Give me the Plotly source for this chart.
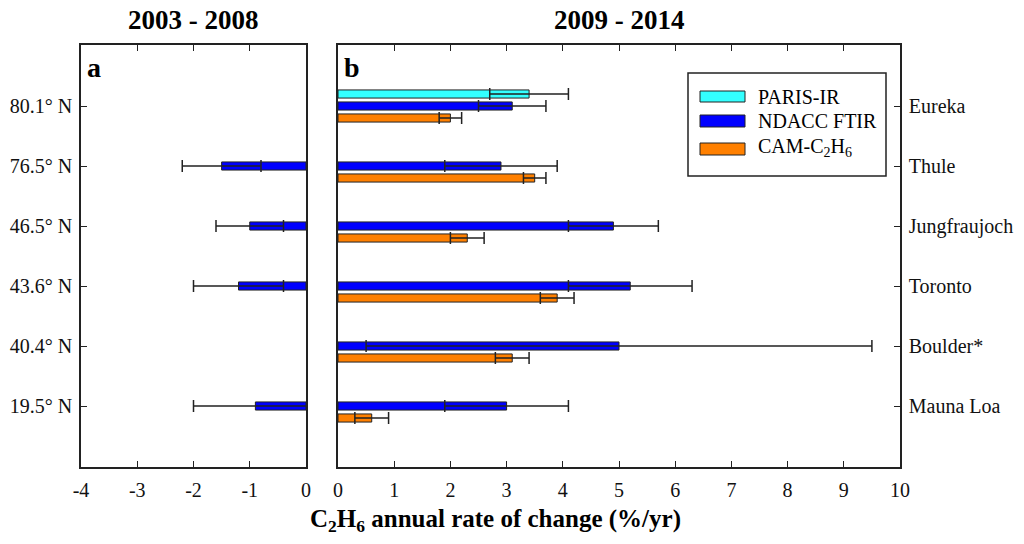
import plotly.graph_objects as go

# ---------------- data ----------------
latitudes = ["80.1° N", "76.5° N", "46.5° N", "43.6° N", "40.4° N", "19.5° N"]
stations = ["Eureka", "Thule", "Jungfraujoch", "Toronto", "Boulder*", "Mauna Loa"]
series_names = ["PARIS-IR", "NDACC FTIR", "CAM-C<sub>2</sub>H<sub>6</sub>"]
series_colors = ["#33FFFF", "#0000FF", "#FF8000"]

# Panel a: 2003-2008 (NDACC FTIR only; None = no data)
ndacc_0308 = [None, -1.5, -1.0, -1.2, None, -0.9]
ndacc_0308_err = [None, 0.7, 0.6, 0.8, None, 1.1]

# Panel b: 2009-2014
paris_0914 = [3.4, None, None, None, None, None]
paris_0914_err = [0.7, None, None, None, None, None]
ndacc_0914 = [3.1, 2.9, 4.9, 5.2, 5.0, 3.0]
ndacc_0914_err = [0.6, 1.0, 0.8, 1.1, 4.5, 1.1]
cam_0914 = [2.0, 3.5, 2.3, 3.9, 3.1, 0.6]
cam_0914_err = [0.2, 0.2, 0.3, 0.3, 0.3, 0.3]

xticks_a = [-4, -3, -2, -1, 0]
xticklabels_a = ["-4", "-3", "-2", "-1", "0"]
xticks_b = list(range(0, 11))

# ---------------- style ----------------
FONT = "Liberation Serif, Times New Roman, Times, serif"
ypos = list(range(len(latitudes)))
BAR_W = 0.135
offsets = [-0.2 - BAR_W / 2, -BAR_W / 2, 0.2 - BAR_W / 2]


def bar(vals, errs, k, xa, ya):
    return go.Bar(
        x=vals, y=ypos, orientation="h",
        width=BAR_W, offset=offsets[k],
        marker=dict(color=series_colors[k], line=dict(color="#222222", width=1)),
        error_x=dict(type="data", array=errs, symmetric=True,
                     color="#222222", thickness=1.5, width=6),
        name=series_names[k], showlegend=False,
        xaxis=xa, yaxis=ya,
    )


fig = go.Figure()
fig.add_trace(bar(ndacc_0308, ndacc_0308_err, 1, "x", "y"))
fig.add_trace(bar(paris_0914, paris_0914_err, 0, "x2", "y2"))
fig.add_trace(bar(ndacc_0914, ndacc_0914_err, 1, "x2", "y2"))
fig.add_trace(bar(cam_0914, cam_0914_err, 2, "x2", "y2"))

W, H = 1024, 544
def px(x):
    return x / W
def py(y):
    return 1 - y / H

yrange = [5 + 61 / 60, -61 / 60]
axis_common = dict(showgrid=False, zeroline=False, showline=True, linecolor="#222222",
                   linewidth=1.5, ticks="inside", ticklen=6, tickcolor="#222222",
                   tickfont=dict(family=FONT, size=20, color="#111111"))

fig.update_layout(
    width=W, height=H,
    margin=dict(l=0, r=0, t=0, b=0),
    paper_bgcolor="white", plot_bgcolor="white",
    barmode="overlay",
    showlegend=False,
    xaxis=dict(domain=[px(81), px(306)], range=[-4, 0], tickvals=xticks_a, ticktext=xticklabels_a,
               anchor="y", mirror="ticks", automargin=False, ticklabelstandoff=4, **axis_common),
    yaxis=dict(domain=[py(467), py(45)], range=yrange, tickvals=ypos, ticktext=latitudes,
               anchor="x", side="left", mirror=True, automargin=False, ticklabelstandoff=3,
               **axis_common),
    xaxis2=dict(domain=[px(338), px(900)], range=[0, 10], tickvals=xticks_b,
                anchor="y2", mirror="ticks", automargin=False, ticklabelstandoff=4, **axis_common),
    yaxis2=dict(domain=[py(467), py(45)], range=yrange, tickvals=ypos, ticktext=stations,
                anchor="x2", side="right", mirror=True, automargin=False, ticklabelstandoff=3,
                **axis_common),
)


def text(t, x, y, size, xanchor="center"):
    return dict(text=t, x=px(x), y=py(y), xref="paper", yref="paper",
                xanchor=xanchor, yanchor="middle", showarrow=False,
                font=dict(family=FONT, size=size, color="black"))


ann = [
    text("<b>2003 - 2008</b>", 193, 20, 27),
    text("<b>2009 - 2014</b>", 619, 20, 27),
    text("<b>a</b>", 85, 67, 28, "left"),
    text("<b>b</b>", 342, 67, 28, "left"),
    text("<b>C<sub>2</sub>H<sub>6</sub> annual rate of change (%/yr)</b>", 495, 520, 25),
]

shapes = []
# legend box
shapes.append(dict(type="rect", xref="paper", yref="paper", x0=px(688), x1=px(886),
                   y0=py(176), y1=py(73), line=dict(color="#222222", width=1.5),
                   fillcolor="white", layer="above"))
swatch_y = [(91, 102), (115, 127), (143, 155)]
text_y = [97, 121, 147]
for k in range(3):
    y0, y1 = swatch_y[k]
    shapes.append(dict(type="rect", xref="paper", yref="paper", x0=px(700), x1=px(745),
                       y0=py(y1), y1=py(y0), line=dict(color="#222222", width=1),
                       fillcolor=series_colors[k], layer="above"))
    ann.append(text(series_names[k], 756, text_y[k], 20, "left"))

fig.update_layout(annotations=ann, shapes=shapes)
fig.write_html("out.html", config={"displayModeBar": False},
               post_script="document.body.style.margin='0';document.body.style.padding='0';")
